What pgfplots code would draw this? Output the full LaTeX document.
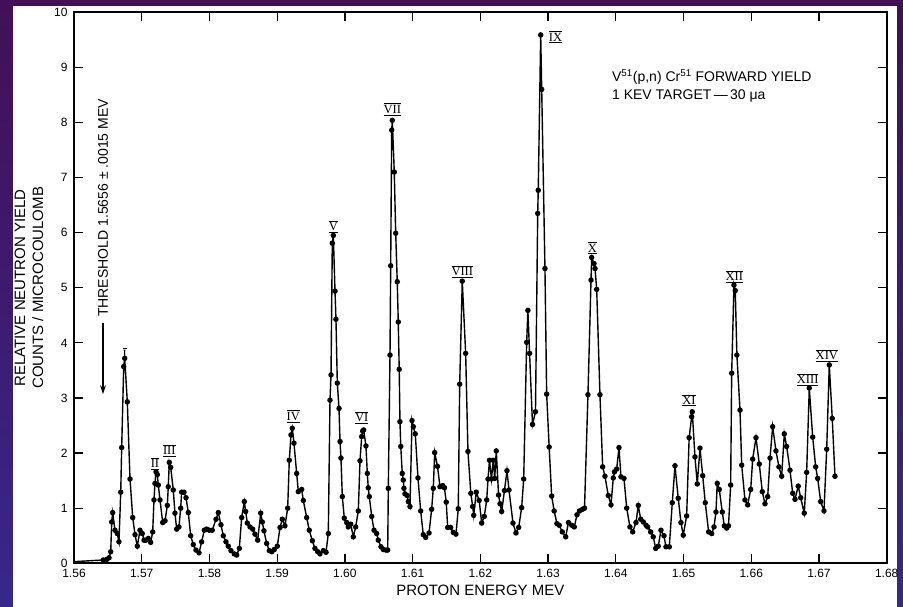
\documentclass[border=0pt]{standalone}
\usepackage{pgfplots}
\pgfplotsset{compat=1.18}
\usepackage{fontspec}
\setmainfont{Liberation Sans}
\newfontfamily\romanfont{Liberation Serif}
\usetikzlibrary{arrows.meta}
\definecolor{bgtop}{RGB}{66,16,86}
\definecolor{bgbot}{RGB}{54,40,138}
\newcommand{\rn}[1]{$\overline{\underline{\hbox{\romanfont\fontsize{12.5}{12.5}\selectfont #1}}}$}
\begin{document}
\begin{tikzpicture}[x=1pt,y=1pt]
\useasboundingbox (-74,-43.7) rectangle (829,563.3);
\shade[top color=bgtop, bottom color=bgbot] (-74,-43.7) rectangle (829,563.3);
\fill[white] (-61,-43.7) rectangle (823,557.3);
\begin{axis}[
  at={(0,0)}, anchor=south west,
  scale only axis,
  width=812.7pt, height=551pt,
  xmin=1.56, xmax=1.68, ymin=0, ymax=10,
  xtick={1.56,1.57,1.58,1.59,1.60,1.61,1.62,1.63,1.64,1.65,1.66,1.67,1.68},
  ytick={0,1,2,3,4,5,6,7,8,9,10},
  tick align=inside,
  major tick length=9pt,
  axis line style={line width=1.6pt},
  every tick/.style={black, line width=1.2pt},
  /pgf/number format/assume math mode=true,
  xticklabel style={yshift=-2.5pt, /pgf/number format/.cd, fixed, fixed zerofill, precision=2},
  yticklabel style={xshift=-3pt, /pgf/number format/.cd, fixed, precision=0},
  tick label style={font=\fontsize{12}{14}\selectfont},
  xlabel={PROTON ENERGY MEV},
  xlabel style={at={(axis description cs:0.5,-0.0485)}, anchor=center, font=\fontsize{15}{18}\selectfont},
  ylabel={RELATIVE NEUTRON YIELD\\COUNTS / MICROCOULOMB},
  ylabel style={at={(axis description cs:-0.0554,0.5)}, anchor=center, align=center, font=\fontsize{15}{18}\selectfont},
  clip=false,
]
\addplot[no marks, black, line width=1.4pt] coordinates {(1.5600,0.03) (1.56433,0.06)};
\addplot[black, line width=1.4pt, mark=*, mark size=2pt, mark options={fill=black}] coordinates {
(1.56433,0.06) (1.56483,0.07) (1.56517,0.10) (1.56542,0.21) (1.56557,0.75) (1.56571,0.92)
(1.56605,0.60) (1.56639,0.54) (1.56664,0.39) (1.56690,1.29) (1.56704,2.10) (1.56734,3.57)
(1.56749,3.72) (1.56787,2.93) (1.56827,1.53) (1.56867,0.83) (1.56901,0.52) (1.56935,0.31)
(1.56974,0.60) (1.57008,0.54) (1.57034,0.42) (1.57063,0.42) (1.57097,0.45) (1.57132,0.38)
(1.57162,0.57) (1.57181,1.15) (1.57196,1.45) (1.57211,1.66) (1.57230,1.61) (1.57245,1.42)
(1.57270,1.15) (1.57310,0.74) (1.57344,0.77) (1.57378,1.05) (1.57392,1.39) (1.57407,1.83)
(1.57428,1.74) (1.57466,1.33) (1.57491,0.91) (1.57516,0.62) (1.57550,0.66) (1.57575,1.00)
(1.57590,1.29) (1.57624,1.29) (1.57654,1.19) (1.57688,0.92) (1.57723,0.50) (1.57761,0.34)
(1.57801,0.24) (1.57846,0.19) (1.57885,0.39) (1.57924,0.60) (1.57959,0.62) (1.57998,0.60)
(1.58042,0.60) (1.58097,0.80) (1.58131,0.92) (1.58170,0.70) (1.58204,0.50) (1.58244,0.39)
(1.58278,0.31) (1.58318,0.23) (1.58367,0.17) (1.58402,0.15) (1.58441,0.27) (1.58476,0.83)
(1.58515,1.12) (1.58535,0.94) (1.58559,0.73) (1.58599,0.66) (1.58639,0.62) (1.58672,0.53)
(1.58712,0.42) (1.58757,0.91) (1.58780,0.75) (1.58805,0.59) (1.58845,0.36) (1.58884,0.23)
(1.58919,0.21) (1.58957,0.25) (1.59002,0.31) (1.59042,0.65) (1.59076,0.80) (1.59115,0.68)
(1.59155,1.00) (1.59179,1.87) (1.59204,2.33) (1.59223,2.45) (1.59248,2.18) (1.59288,1.63)
(1.59312,1.30) (1.59362,1.34) (1.59386,1.14) (1.59436,0.83) (1.59474,0.60) (1.59519,0.41)
(1.59558,0.27) (1.59598,0.21) (1.59632,0.17) (1.59681,0.23) (1.59721,0.20) (1.59755,0.54)
(1.59780,2.96) (1.59795,3.42) (1.59814,5.81) (1.59829,5.95) (1.59854,4.94) (1.59868,4.43)
(1.59888,3.27) (1.59913,2.81) (1.59928,2.21) (1.59942,1.91) (1.59962,1.21) (1.59991,0.82)
(1.60027,0.74) (1.60050,0.66) (1.60086,0.71) (1.60124,0.48) (1.60159,0.66) (1.60198,0.95)
(1.60223,1.86) (1.60248,2.30) (1.60263,2.40) (1.60277,2.42) (1.60311,2.13) (1.60331,1.63)
(1.60345,1.37) (1.60360,1.21) (1.60396,0.85) (1.60430,0.60) (1.60469,0.54) (1.60493,0.42)
(1.60533,0.30) (1.60567,0.25) (1.60607,0.24) (1.60632,0.24) (1.60641,1.36) (1.60666,3.78)
(1.60676,5.40) (1.60691,7.86) (1.60700,8.04) (1.60729,7.10) (1.60750,5.99) (1.60773,5.11)
(1.60788,4.38) (1.60802,3.52) (1.60813,2.57) (1.60825,2.12) (1.60847,1.63) (1.60862,1.51)
(1.60872,1.36) (1.60887,1.26) (1.60921,1.23) (1.60936,1.12) (1.60961,1.03) (1.60991,2.59)
(1.61010,2.48) (1.61039,2.35) (1.61079,1.55) (1.61119,0.95) (1.61157,0.52) (1.61193,0.47)
(1.61242,0.55) (1.61281,0.98) (1.61305,1.36) (1.61326,2.01) (1.61367,1.76) (1.61404,1.39)
(1.61444,1.41) (1.61470,1.37) (1.61496,1.11) (1.61518,0.65) (1.61562,0.65) (1.61600,0.56)
(1.61640,0.53) (1.61674,0.99) (1.61695,3.25) (1.61733,5.12) (1.61783,3.81) (1.61817,2.03)
(1.61859,1.27) (1.61887,1.03) (1.61902,0.87) (1.61940,1.29) (1.61983,1.14) (1.62020,0.73)
(1.62058,0.85) (1.62094,1.15) (1.62113,1.53) (1.62135,1.87) (1.62164,1.53) (1.62191,1.87)
(1.62212,1.54) (1.62235,2.04) (1.62269,1.24) (1.62290,1.08) (1.62315,0.94) (1.62356,1.32)
(1.62393,1.68) (1.62423,1.33) (1.62482,0.73) (1.62526,0.55) (1.62566,0.65) (1.62610,1.01)
(1.62640,1.53) (1.62684,4.01) (1.62702,4.59) (1.62727,3.81) (1.62770,2.52) (1.62814,2.75)
(1.62847,6.35) (1.62855,6.77) (1.62891,9.59) (1.62906,8.60) (1.62954,5.35) (1.62979,3.07)
(1.63016,2.11) (1.63053,1.22) (1.63090,0.95) (1.63131,0.72) (1.63165,0.69) (1.63210,0.57)
(1.63260,0.48) (1.63301,0.74) (1.63349,0.69) (1.63387,0.66) (1.63427,0.88) (1.63464,0.95)
(1.63508,0.98) (1.63538,1.00) (1.63589,3.06) (1.63634,5.14) (1.63644,5.55) (1.63678,5.44)
(1.63693,5.35) (1.63718,4.97) (1.63766,3.06) (1.63806,1.75) (1.63840,1.58) (1.63889,1.23)
(1.63929,1.06) (1.63963,1.55) (1.63980,1.66) (1.64013,1.71) (1.64047,2.10) (1.64076,1.57)
(1.64121,1.54) (1.64161,1.00) (1.64209,0.66) (1.64249,0.57) (1.64298,0.74) (1.64332,1.05)
(1.64367,0.80) (1.64406,0.75) (1.64446,0.69) (1.64471,0.66) (1.64515,0.57) (1.64553,0.48)
(1.64589,0.27) (1.64627,0.31) (1.64667,0.60) (1.64711,0.50) (1.64741,0.30) (1.64790,0.30)
(1.64834,1.10) (1.64874,1.77) (1.64922,1.18) (1.64962,0.74) (1.64996,0.51) (1.65046,0.86)
(1.65083,2.28) (1.65120,2.66) (1.65129,2.75) (1.65169,1.93) (1.65203,1.44) (1.65243,2.09)
(1.65283,1.59) (1.65321,1.10) (1.65371,0.57) (1.65416,0.54) (1.65450,0.66) (1.65479,0.93)
(1.65498,1.45) (1.65528,1.34) (1.65572,0.93) (1.65602,0.68) (1.65637,0.64) (1.65664,0.68)
(1.65696,1.42) (1.65711,3.45) (1.65745,5.05) (1.65764,4.95) (1.65788,3.78) (1.65834,2.78)
(1.65859,1.78) (1.65907,1.15) (1.65947,1.06) (1.65992,1.34) (1.66021,1.89) (1.66070,2.28)
(1.66119,1.80) (1.66163,1.30) (1.66203,1.08) (1.66243,1.21) (1.66277,1.91) (1.66316,2.48)
(1.66365,2.04) (1.66409,1.75) (1.66449,1.58) (1.66488,2.35) (1.66523,2.12) (1.66572,1.69)
(1.66612,1.27) (1.66646,1.16) (1.66694,1.40) (1.66730,1.19) (1.66783,0.91) (1.66818,1.65)
(1.66857,3.18) (1.66907,2.29) (1.66951,1.75) (1.66981,1.54) (1.67025,1.12) (1.67074,0.95)
(1.67114,2.07) (1.67152,3.60) (1.67196,2.63) (1.67236,1.58)
};
% peak labels
\node at (axis cs:1.56749,3.80) {\rn{I}};
\node at (axis cs:1.57196,1.81) {\rn{II}};
\node at (axis cs:1.57407,2.04) {\rn{III}};
\node at (axis cs:1.59238,2.67) {\rn{IV}};
\node at (axis cs:1.59829,6.11) {\rn{V}};
\node at (axis cs:1.60248,2.64) {\rn{VI}};
\node at (axis cs:1.60700,8.24) {\rn{VII}};
\node at (axis cs:1.61733,5.29) {\rn{VIII}};
\node at (axis cs:1.63110,9.55) {\rn{IX}};
\node at (axis cs:1.63653,5.72) {\rn{X}};
\node at (axis cs:1.65080,2.96) {\rn{XI}};
\node at (axis cs:1.65749,5.21) {\rn{XII}};
\node at (axis cs:1.66833,3.33) {\rn{XIII}};
\node at (axis cs:1.67116,3.77) {\rn{XIV}};
% annotations
\node[anchor=base west, font=\fontsize{14}{16}\selectfont, inner sep=0pt] at (axis cs:1.63943,8.735) {V\textsuperscript{51}(p,n) Cr\textsuperscript{51} FORWARD YIELD};
\node[anchor=base west, font=\fontsize{14}{16}\selectfont, inner sep=0pt] at (axis cs:1.63943,8.41) {1 KEV TARGET\,—\,30 μa};
\node[rotate=90, font=\fontsize{14}{16}\selectfont] at (axis cs:1.56428,6.45) {THRESHOLD 1.5656 ± .0015 MEV};
\draw[-{Stealth[length=9pt,width=6pt]}, line width=1.1pt] (axis cs:1.56428,4.37) -- (axis cs:1.56428,3.07);
\end{axis}
\end{tikzpicture}
\end{document}
